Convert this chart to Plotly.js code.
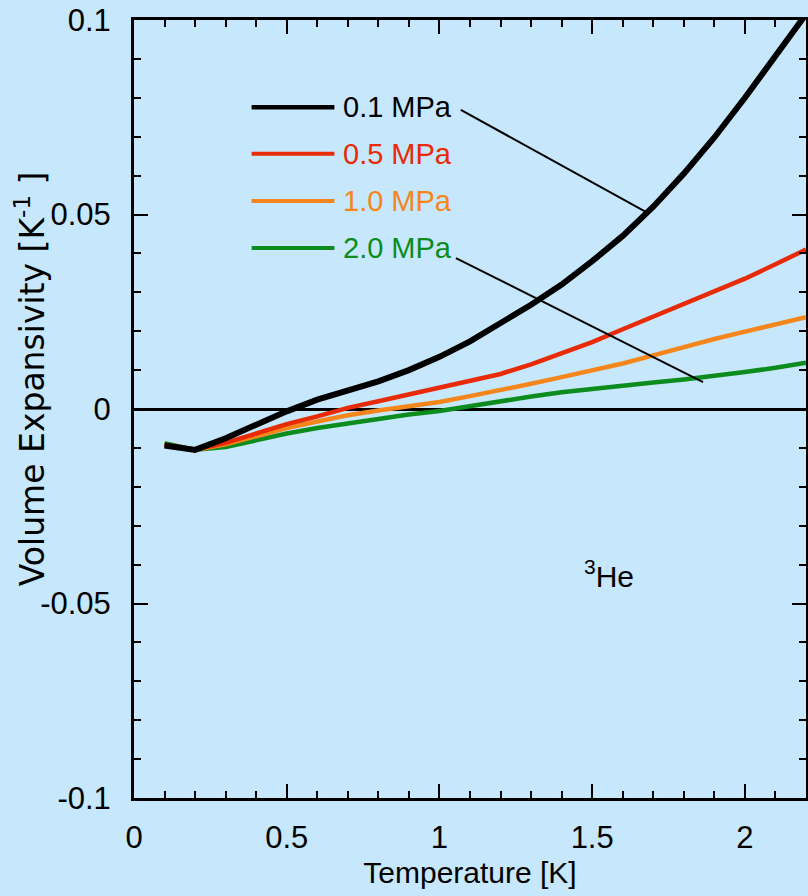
<!DOCTYPE html>
<html>
<head>
<meta charset="utf-8">
<script src="https://cdn.plot.ly/plotly-3.0.1.min.js"></script>
<style>html,body{margin:0;padding:0;background:#c6e7fc;}</style>
</head>
<body>
<div id="chart" style="width:808px;height:896px;"></div>
<script>
// Temperature [K]
const temperature = [0.1,0.2,0.3,0.4,0.5,0.6,0.7,0.8,0.9,1.0,1.1,1.2,1.3,1.4,1.5,1.6,1.7,1.8,1.9,2.0,2.1,2.2];
// Volume expansivity [1/K] at each pressure
const alpha_01MPa = [-0.0094,-0.0105,-0.0075,-0.0040,-0.0006,0.0024,0.0046,0.0071,0.0100,0.0134,0.0174,0.0220,0.0268,0.0320,0.0380,0.0445,0.0520,0.0605,0.0698,0.0800,0.0905,0.1015];
const alpha_05MPa = [-0.0092,-0.0104,-0.0087,-0.0062,-0.0039,-0.0019,0.0003,0.0020,0.0037,0.0054,0.0072,0.0090,0.0115,0.0142,0.0172,0.0205,0.0237,0.0268,0.0300,0.0335,0.0372,0.0410];
const alpha_10MPa = [-0.0092,-0.0105,-0.0091,-0.0070,-0.0049,-0.0032,-0.0016,-0.0004,0.0006,0.0018,0.0033,0.0048,0.0065,0.0082,0.0099,0.0117,0.0138,0.0160,0.0180,0.0199,0.0218,0.0236];
const alpha_20MPa = [-0.0088,-0.0105,-0.0098,-0.0080,-0.0063,-0.0049,-0.0037,-0.0025,-0.0014,-0.0005,0.0008,0.0020,0.0032,0.0043,0.0052,0.0061,0.0068,0.0076,0.0085,0.0095,0.0106,0.0119];

const seriesNames = ['0.1 MPa','0.5 MPa','1.0 MPa','2.0 MPa'];
const seriesData = [alpha_01MPa, alpha_05MPa, alpha_10MPa, alpha_20MPa];
const seriesColors = ['#000000','#e82a05','#f5861c','#0c8c1c'];
const seriesWidths = [6,4.5,4.5,4.5];
const legendWidths = [4.5,4,4,4];

const xTickVals = [0,0.5,1,1.5,2];
const xTickText = ['0','0.5','1','1.5','2'];
const yTickVals = [-0.1,-0.05,0,0.05,0.1];
const yTickText = ['-0.1','-0.05','0','0.05','0.1'];

const bg = '#c6e7fc';
const tickFont = {family:'Liberation Sans, Arial, sans-serif', size:31, color:'#000'};

// draw order: green first, black on top
const traces = [];
for (let i = seriesData.length - 1; i >= 0; i--) {
  traces.push({
    x: temperature, y: seriesData[i], type:'scatter', mode:'lines',
    name: seriesNames[i],
    line:{color:seriesColors[i], width:seriesWidths[i]},
    showlegend:false, cliponaxis:true
  });
}

// custom legend (long line samples, coloured labels)
const legendX0 = 0.385, legendX1 = 0.656, legendTextX = 0.678;
const legendY = [0.0776, 0.0656, 0.0535, 0.0414];
const shapes = [];
const annotations = [];
for (let i = 0; i < seriesNames.length; i++) {
  shapes.push({type:'line', xref:'x', yref:'y', x0:legendX0, x1:legendX1, y0:legendY[i], y1:legendY[i],
    line:{color:seriesColors[i], width:legendWidths[i]}});
  annotations.push({xref:'x', yref:'y', x:legendTextX, y:legendY[i], xanchor:'left', yanchor:'middle',
    text:seriesNames[i], showarrow:false, font:{family:'Liberation Sans, Arial, sans-serif', size:29, color:seriesColors[i]}});
}
// pointer lines from labels to curves
shapes.push({type:'line', xref:'x', yref:'y', x0:1.070, y0:0.0769, x1:1.677, y1:0.0506, line:{color:'#000', width:2}});
shapes.push({type:'line', xref:'x', yref:'y', x0:1.054, y0:0.0388, x1:1.863, y1:0.0069, line:{color:'#000', width:2}});

annotations.push({xref:'x', yref:'y', x:1.555, y:-0.0425, xanchor:'center', yanchor:'middle',
  text:'<sup>3</sup>He', showarrow:false, font:{family:'Liberation Sans, Arial, sans-serif', size:30, color:'#000'}});
annotations.push({xref:'paper', yref:'paper', x:-0.154, y:0.539, xanchor:'center', yanchor:'middle', textangle:-90,
  text:'Volume Expansivity [K<sup>-1</sup> ]', showarrow:false, font:{family:'DejaVu Sans, sans-serif', size:33, color:'#000'}});

const layout = {
  width:808, height:896,
  paper_bgcolor:bg, plot_bgcolor:bg,
  margin:{l:134, r:2, t:20, b:98},
  showlegend:false,
  xaxis:{
    range:[0,2.2], tickvals:xTickVals, ticktext:xTickText,
    ticks:'inside', ticklen:14, tickwidth:2, tickcolor:'#000',
    minor:{dtick:0.1, ticks:'inside', ticklen:7, tickwidth:2, tickcolor:'#000', showgrid:false},
    showline:true, linecolor:'#000', linewidth:3, mirror:'allticks',
    showgrid:false, zeroline:false,
    tickfont:tickFont, ticklabelstandoff:10,
    title:{text:'Temperature [K]', font:{family:'Liberation Sans, Arial, sans-serif', size:30, color:'#000'}, standoff:8}
  },
  yaxis:{
    range:[-0.1,0.1], tickvals:yTickVals, ticktext:yTickText,
    ticks:'inside', ticklen:14, tickwidth:2, tickcolor:'#000',
    minor:{dtick:0.01, ticks:'inside', ticklen:7, tickwidth:2, tickcolor:'#000', showgrid:false},
    showline:true, linecolor:'#000', linewidth:3, mirror:'allticks',
    showgrid:false, zeroline:true, zerolinecolor:'#000', zerolinewidth:3,
    tickfont:tickFont, ticklabelstandoff:14
  },
  shapes:shapes,
  annotations:annotations
};

Plotly.newPlot('chart', traces, layout, {staticPlot:true});
</script>
</body>
</html>
